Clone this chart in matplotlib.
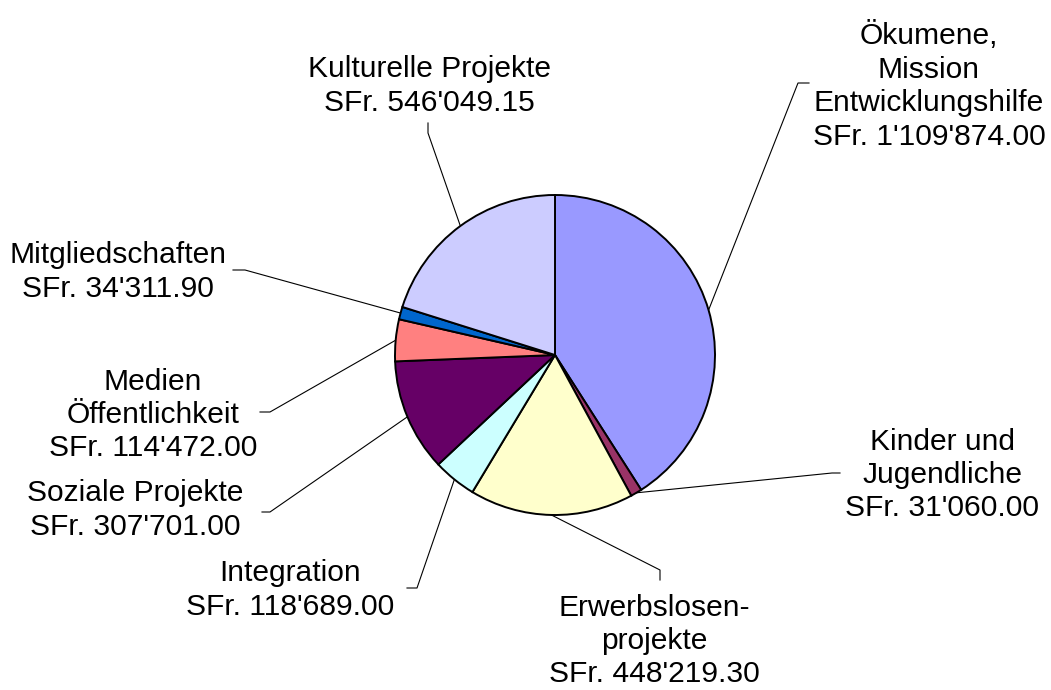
import numpy as np
import matplotlib
matplotlib.use("Agg")
import matplotlib.pyplot as plt

plt.rcParams['font.family'] = ['Liberation Sans', 'DejaVu Sans']

# data
names = ["Ökumene,\nMission\nEntwicklungshilfe", "Kinder und\nJugendliche",
         "Erwerbslosen-\nprojekte", "Integration", "Soziale Projekte",
         "Medien\nÖffentlichkeit", "Mitgliedschaften", "Kulturelle Projekte"]
amounts = [1109874.00, 31060.00, 448219.30, 118689.00, 307701.00,
           114472.00, 34311.90, 546049.15]
amount_labels = ["SFr. 1'109'874.00", "SFr. 31'060.00", "SFr. 448'219.30",
                 "SFr. 118'689.00", "SFr. 307'701.00", "SFr. 114'472.00",
                 "SFr. 34'311.90", "SFr. 546'049.15"]
colors = ["#9999FF", "#993366", "#FFFFCC", "#CCFFFF", "#660066",
          "#FF8080", "#0066CC", "#CCCCFF"]

# layout (pixel coords, y downwards)
label_pos = [(929, 86), (942, 475), (654, 641), (290, 590), (135, 510),
             (153, 415), (118, 272), (429, 86)]
elbows = [[(798, 83), (809, 83)], [(832, 473), (840, 473)],
          [(660, 570), (660, 580)], [(417, 588), (407, 588)],
          [(270, 512), (262, 512)], [(270, 412), (260, 412)],
          [(245, 270), (233, 270)], [(428, 133), (428, 123)]]

fig = plt.figure(figsize=(10.51, 6.9), dpi=100)
ax = fig.add_axes([0, 0, 1, 1])
wedges, _ = ax.pie(amounts, colors=colors, startangle=-90, counterclock=True,
                   center=(555, 355), radius=160,
                   wedgeprops=dict(edgecolor="black", linewidth=1.4))
ax.set_xlim(0, 1051)
ax.set_ylim(690, 0)
ax.set_aspect("equal")
ax.axis("off")

for w, name, amt, pos, elb in zip(wedges, names, amount_labels, label_pos, elbows):
    mid = np.deg2rad((w.theta1 + w.theta2) / 2)
    x0 = w.center[0] + w.r * np.cos(mid)
    y0 = w.center[1] + w.r * np.sin(mid)
    xs = [x0] + [p[0] for p in elb]
    ys = [y0] + [p[1] for p in elb]
    ax.plot(xs, ys, color="black", lw=0.8, zorder=0)
    ax.text(pos[0], pos[1], name + "\n" + amt, ha="center", va="center",
            fontsize=21.6, linespacing=1.25)

fig.savefig("out.png", dpi=100)
